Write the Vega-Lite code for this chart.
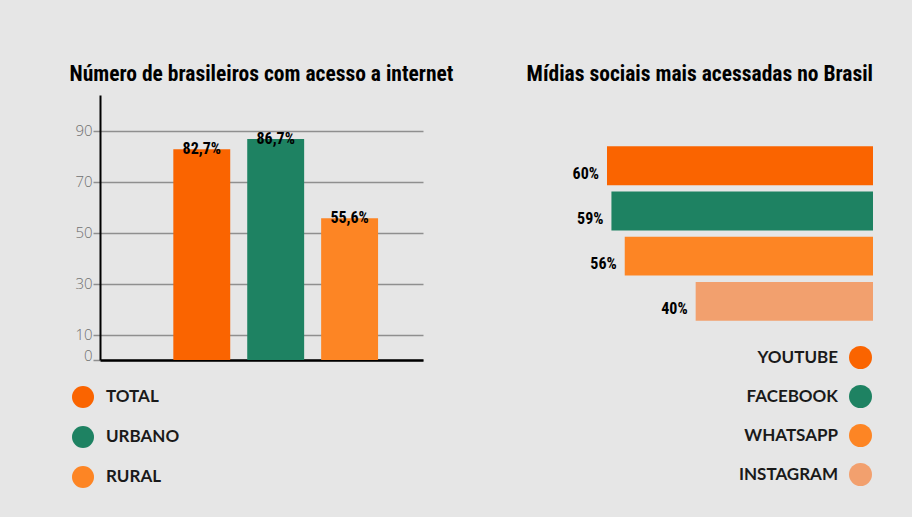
{
  "$schema": "https://vega.github.io/schema/vega-lite/v6.json",
  "background": "#e6e6e6",
  "autosize": {"type": "none"},
  "padding": {"left": 100, "top": 95, "right": 812, "bottom": 422},
  "datasets": {
    "acesso": [
      {"categoria": "TOTAL", "valor": 82.7, "rotulo": "82,7%"},
      {"categoria": "URBANO", "valor": 86.7, "rotulo": "86,7%"},
      {"categoria": "RURAL", "valor": 55.6, "rotulo": "55,6%"}
    ],
    "midias": [
      {"rede": "YOUTUBE", "percentual": 60, "rotulo": "60%"},
      {"rede": "FACEBOOK", "percentual": 59, "rotulo": "59%"},
      {"rede": "WHATSAPP", "percentual": 56, "rotulo": "56%"},
      {"rede": "INSTAGRAM", "percentual": 40, "rotulo": "40%"}
    ]
  },
  "bounds": "flush",
  "spacing": 184,
  "hconcat": [
    {
      "width": 323,
      "height": 265,
      "data": {"name": "acesso"},
      "title": {
        "text": "Número de brasileiros com acesso a internet",
        "font": "Roboto Condensed, Liberation Sans Narrow, DejaVu Sans Condensed, sans-serif",
        "fontSize": 21.5,
        "fontWeight": "bold",
        "color": "#000000",
        "anchor": "middle",
        "frame": "group",
        "offset": 10
      },
      "encoding": {
        "x": {
          "field": "categoria",
          "type": "nominal",
          "sort": ["TOTAL", "URBANO", "RURAL"],
          "scale": {"paddingInner": 0.23, "paddingOuter": 0.8, "align": 0.62},
          "axis": {"labels": false, "ticks": false, "title": null, "domainColor": "#000000", "domainWidth": 2.5, "grid": false}
        }
      },
      "layer": [
        {
          "mark": {"type": "bar"},
          "encoding": {
            "y": {
              "field": "valor",
              "type": "quantitative",
              "scale": {"domain": [0, 104], "nice": false},
              "axis": {
                "values": [0, 10, 30, 50, 70, 90],
                "title": null,
                "grid": true,
                "gridColor": "#8f8f8f",
                "gridWidth": 1.5,
                "tickColor": "#8f8f8f",
                "tickWidth": 1.5,
                "tickSize": 7,
                "labelColor": "#707070",
                "labelFont": "Open Sans, sans-serif",
                "labelFontWeight": 300,
                "labelFontSize": 15,
                "labelPadding": 1,
                "labelBaseline": {"condition": {"test": "datum.value === 0", "value": "alphabetic"}, "value": "middle"},
                "domainColor": "#000000",
                "domainWidth": 2
              }
            },
            "color": {
              "field": "categoria",
              "type": "nominal",
              "scale": {"domain": ["TOTAL", "URBANO", "RURAL"], "range": ["#fa6400", "#1e8262", "#fd8524"]},
              "legend": {
                "orient": "none",
                "legendX": -28,
                "legendY": 291,
                "title": null,
                "padding": 0,
                "symbolType": "circle",
                "symbolSize": 484,
                "symbolStrokeWidth": 0,
                "symbolOpacity": 1,
                "rowPadding": 18,
                "labelOffset": 12,
                "labelFont": "Lato, Open Sans, sans-serif",
                "labelFontWeight": "bold",
                "labelFontSize": 17,
                "labelColor": "#1a1a1a"
              }
            }
          }
        },
        {
          "mark": {
            "type": "text",
            "baseline": "alphabetic",
            "dy": 5,
            "font": "Roboto Condensed, Liberation Sans Narrow, DejaVu Sans Condensed, sans-serif",
            "fontWeight": "bold",
            "fontSize": 16,
            "color": "#000000"
          },
          "encoding": {
            "y": {"field": "valor", "type": "quantitative"},
            "text": {"field": "rotulo", "type": "nominal"}
          }
        }
      ]
    },
    {
      "width": 266,
      "height": 265,
      "data": {"name": "midias"},
      "title": {
        "text": "Mídias sociais mais acessadas no Brasil",
        "font": "Roboto Condensed, Liberation Sans Narrow, DejaVu Sans Condensed, sans-serif",
        "fontSize": 21.5,
        "fontWeight": "bold",
        "color": "#000000",
        "anchor": "end",
        "frame": "group",
        "offset": 10
      },
      "encoding": {
        "y": {
          "field": "rede",
          "type": "nominal",
          "sort": ["YOUTUBE", "FACEBOOK", "WHATSAPP", "INSTAGRAM"],
          "scale": {"paddingInner": 0.14, "paddingOuter": 1.08, "align": 0.567},
          "axis": null
        },
        "x": {
          "field": "percentual",
          "type": "quantitative",
          "scale": {"domain": [0, 60], "reverse": true, "nice": false},
          "axis": null
        }
      },
      "layer": [
        {
          "mark": {"type": "bar"},
          "encoding": {
            "color": {
              "field": "rede",
              "type": "nominal",
              "scale": {"domain": ["YOUTUBE", "FACEBOOK", "WHATSAPP", "INSTAGRAM"], "range": ["#fa6400", "#1e8262", "#fd8524", "#f2a06e"]},
              "legend": {
                "orient": "none",
                "legendX": 242,
                "legendY": 251,
                "title": null,
                "padding": 0,
                "symbolType": "circle",
                "symbolSize": 529,
                "symbolStrokeWidth": 0,
                "symbolOpacity": 1,
                "rowPadding": 16,
                "labelAlign": "right",
                "labelOffset": -34,
                "labelLimit": 300,
                "labelFont": "Lato, Open Sans, sans-serif",
                "labelFontWeight": "bold",
                "labelFontSize": 17,
                "labelColor": "#1a1a1a"
              }
            }
          }
        },
        {
          "mark": {
            "type": "text",
            "align": "right",
            "baseline": "middle",
            "dx": -8,
            "dy": 8,
            "font": "Roboto Condensed, Liberation Sans Narrow, DejaVu Sans Condensed, sans-serif",
            "fontWeight": "bold",
            "fontSize": 16,
            "color": "#000000"
          },
          "encoding": {
            "text": {"field": "rotulo", "type": "nominal"}
          }
        }
      ]
    }
  ],
  "resolve": {"scale": {"color": "independent"}},
  "config": {"view": {"stroke": null}}
}
